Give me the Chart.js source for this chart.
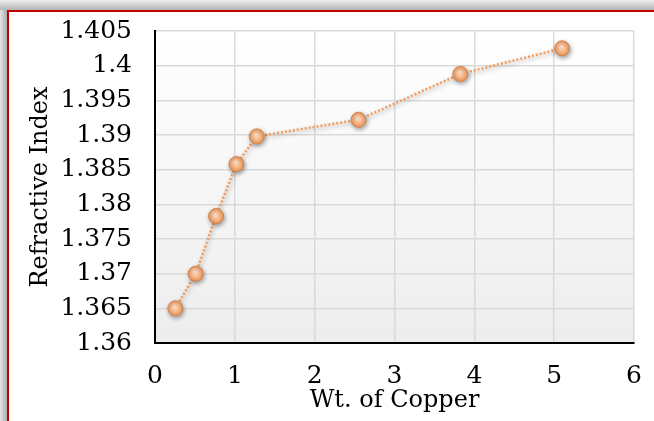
<!DOCTYPE html>
<html>
<head>
<meta charset="utf-8">
<script src="https://cdn.jsdelivr.net/npm/chart.js@4"></script>
<style>
  html, body { margin: 0; padding: 0; background: #fff; }
  #wrap { width: 654px; height: 421px; }
</style>
</head>
<body>
<div id="wrap"><canvas id="chart" width="654" height="421"></canvas></div>
<script>
// data
const copperWt = [0.255, 0.51, 0.765, 1.02, 1.275, 2.55, 3.825, 5.1];
const refractiveIndex = [1.365, 1.370, 1.3783, 1.3858, 1.3898, 1.3922, 1.3988, 1.4025];
const xTicks = [0, 1, 2, 3, 4, 5, 6];
const yTicks = [1.36, 1.365, 1.37, 1.375, 1.38, 1.385, 1.39, 1.395, 1.4, 1.405];

const FONT = 'DejaVu Serif';

// red frame with a soft grey shadow, and the shaded plot area
const framePlugin = {
    id: 'frame',
    beforeDraw(chart) {
        const ctx = chart.ctx;
        const a = chart.chartArea;
        ctx.save();
        let g = ctx.createLinearGradient(0, 0, 0, 10);
        g.addColorStop(0, '#ececec');
        g.addColorStop(1, '#b4b4b4');
        ctx.fillStyle = g;
        ctx.fillRect(0, 0, chart.width, 10);
        g = ctx.createLinearGradient(0, 0, 7, 0);
        g.addColorStop(0, '#e4e4e4');
        g.addColorStop(1, '#ababab');
        ctx.fillStyle = g;
        ctx.fillRect(0, 10, 7, chart.height);
        ctx.fillStyle = '#c00000';
        ctx.fillRect(7, 10, chart.width - 7, 2);
        ctx.fillRect(7, 10, 2, chart.height - 10);

        g = ctx.createLinearGradient(0, a.top, 0, a.bottom);
        g.addColorStop(0, '#ffffff');
        g.addColorStop(1, '#ededed');
        ctx.fillStyle = g;
        ctx.fillRect(a.left, a.top, a.right - a.left, a.bottom - a.top);
        ctx.restore();
    },
    beforeDatasetsDraw(chart) {
        const ctx = chart.ctx;
        ctx.save();
        ctx.shadowColor = 'rgba(0,0,0,0.35)';
        ctx.shadowBlur = 4;
        ctx.shadowOffsetX = 1;
        ctx.shadowOffsetY = 2;
    },
    afterDatasetsDraw(chart) {
        chart.ctx.restore();
    }
};

function markerFill(context) {
    const chart = context.chart;
    if (!chart.chartArea || context.parsed === undefined) return '#f4b183';
    const x = chart.scales.x.getPixelForValue(context.parsed.x);
    const y = chart.scales.y.getPixelForValue(context.parsed.y);
    const g = chart.ctx.createRadialGradient(x - 1, y - 2, 0, x, y, 7.5);
    g.addColorStop(0, '#fde2d0');
    g.addColorStop(0.55, '#f7b98e');
    g.addColorStop(1, '#ec985c');
    return g;
}

const ctx = document.getElementById('chart').getContext('2d');
const myChart = new Chart(ctx, {
    type: 'scatter',
    data: {
        datasets: [{
            label: 'Refractive Index',
            data: copperWt.map((x, i) => ({ x: x, y: refractiveIndex[i] })),
            showLine: true,
            borderColor: '#f39b5a',
            borderWidth: 2.5,
            borderDash: [2, 2],
            pointRadius: 7.5,
            pointHoverRadius: 7.5,
            pointBorderWidth: 1,
            pointBorderColor: '#d4844c',
            pointBackgroundColor: markerFill,
            tension: 0
        }]
    },
    options: {
        responsive: false,
        animation: false,
        layout: { autoPadding: false, padding: { left: 10, right: 20, top: 31, bottom: 0 } },
        plugins: {
            legend: { display: false },
            tooltip: { enabled: false }
        },
        scales: {
            x: {
                type: 'linear',
                min: 0,
                max: 6,
                afterBuildTicks: s => { s.ticks = xTicks.map(v => ({ value: v })); },
                // fixed height, and no extra room for the end labels
                afterFit: s => { s.height = 78; s.paddingLeft = 0; s.paddingRight = 0; },
                grid: { color: '#d9d9d9', lineWidth: 1.5, drawTicks: false },
                border: { color: '#000', width: 2 },
                ticks: {
                    padding: 18,
                    color: '#000',
                    font: { family: FONT, size: 25 }
                },
                title: {
                    display: true,
                    text: 'Wt. of Copper',
                    color: '#000',
                    font: { family: FONT, size: 24 },
                    padding: { top: 0, bottom: 6 }
                }
            },
            y: {
                min: 1.36,
                max: 1.405,
                afterBuildTicks: s => { s.ticks = yTicks.map(v => ({ value: v })); },
                afterFit: s => { s.width = 145; s.paddingTop = 0; s.paddingBottom = 0; },
                grid: { color: '#d9d9d9', lineWidth: 1.5, drawTicks: false },
                border: { color: '#000', width: 2 },
                ticks: {
                    padding: 23,
                    color: '#000',
                    font: { family: FONT, size: 25 },
                    callback: v => String(parseFloat(v.toFixed(3)))
                },
                title: {
                    display: true,
                    text: 'Refractive Index',
                    color: '#000',
                    font: { family: FONT, size: 24 },
                    padding: { top: 16, bottom: 0 }
                }
            }
        }
    },
    plugins: [framePlugin]
});
</script>
</body>
</html>
